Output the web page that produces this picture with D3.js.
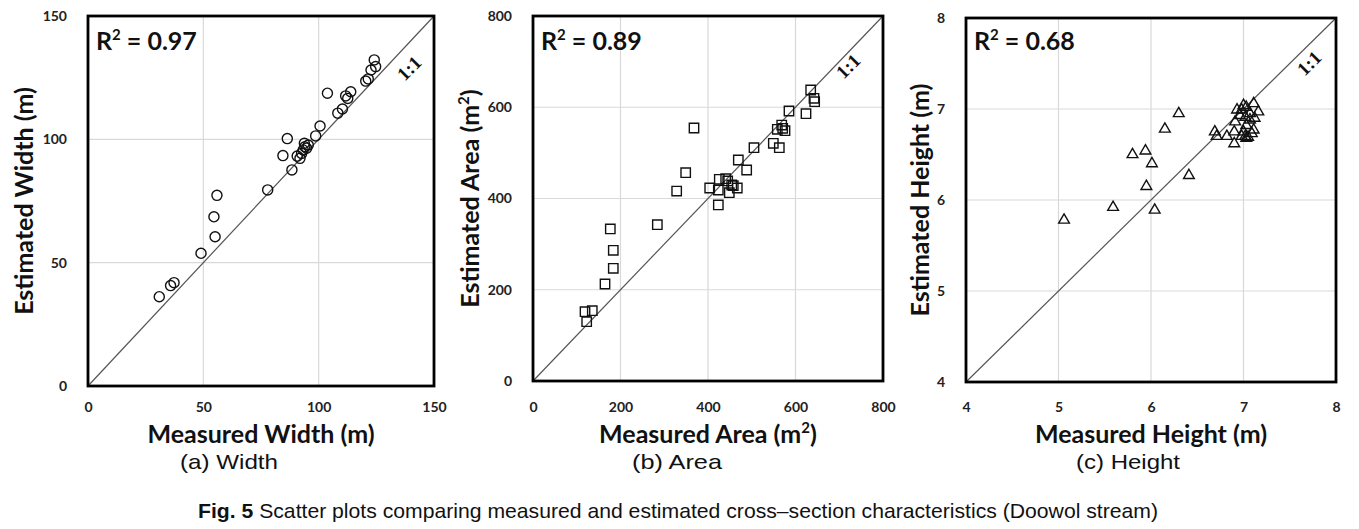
<!DOCTYPE html>
<html>
<head>
<meta charset="utf-8">
<script src="https://cdn.jsdelivr.net/npm/d3@7"></script>
<style>
  html, body { margin: 0; padding: 0; background: #fff; }
  svg { display: block; }
</style>
</head>
<body>
<svg id="chart" width="1359" height="529"></svg>
<script>
// ---------------- DATA ----------------
const widthMeasured  = [30.9, 35.8, 37.3, 49.0, 55.1, 54.6, 55.9, 77.9, 88.4, 84.5, 86.4, 90.7, 91.9, 92.6, 93.3, 94.0, 93.8, 94.8, 95.5, 98.7, 100.6, 103.8, 108.3, 110.3, 111.7, 112.6, 113.9, 120.4, 121.5, 122.7, 124.7, 124.1];
const widthEstimated = [36.2, 40.7, 41.9, 53.8, 60.5, 68.6, 77.3, 79.5, 87.6, 93.4, 100.3, 93.2, 92.3, 94.3, 95.7, 97.0, 98.4, 96.4, 97.7, 101.4, 105.4, 118.7, 110.6, 112.3, 117.6, 116.6, 119.3, 123.6, 124.5, 128.1, 129.5, 132.2];

const areaMeasured  = [118.9, 135.5, 122.7, 164.6, 176.7, 183.5, 183.5, 284.2, 328.4, 349.0, 368.0, 403.9, 423.6, 423.6, 425.8, 440.4, 445.0, 454.2, 467.0, 448.7, 457.8, 469.3, 488.4, 505.1, 549.3, 563.0, 558.4, 568.5, 576.0, 570.7, 585.1, 624.0, 634.7, 642.3, 643.8];
const areaEstimated = [151.9, 154.1, 130.0, 212.6, 333.2, 286.5, 247.0, 342.6, 416.4, 456.6, 554.5, 423.0, 385.8, 418.6, 442.0, 443.4, 438.4, 429.6, 423.0, 412.7, 428.0, 484.4, 462.5, 511.3, 520.9, 511.3, 551.7, 561.0, 548.6, 553.8, 591.8, 585.8, 637.8, 619.6, 612.2];

const heightMeasured  = [5.06, 5.59, 5.80, 5.94, 6.01, 5.95, 6.04, 6.15, 6.30, 6.41, 6.69, 6.71, 6.82, 6.90, 6.90, 6.93, 7.00, 7.03, 7.11, 7.16, 7.07, 6.96, 7.02, 6.91, 7.07, 7.11, 6.98, 7.02, 7.05, 7.09, 7.00, 7.03, 6.98, 7.12, 7.03];
const heightEstimated = [5.78, 5.92, 6.50, 6.54, 6.40, 6.15, 5.89, 6.78, 6.95, 6.27, 6.75, 6.70, 6.70, 6.62, 6.75, 6.99, 7.04, 7.02, 7.06, 6.97, 6.95, 6.93, 6.91, 6.86, 6.88, 6.77, 6.70, 6.70, 6.69, 6.73, 6.75, 6.82, 6.99, 6.90, 6.68];

const widthTicks  = [0, 50, 100, 150];
const areaTicks   = [0, 200, 400, 600, 800];
const heightTicks = [4, 5, 6, 7, 8];

const r2Values = ["0.97", "0.89", "0.68"];
const xTitles  = [["Measured Width (m)", ""], ["Measured Area (m", "2", ")"], ["Measured Height (m)", ""]];
const yTitles  = [["Estimated Width (m)", ""], ["Estimated Area (m", "2", ")"], ["Estimated Height (m)", ""]];
const subLabels = ["(a)  Width", "(b)  Area", "(c)  Height"];
const captionBold = "Fig. 5";
const captionText = " Scatter plots comparing measured and estimated cross\u2013section characteristics (Doowol stream)";
const oneToOne = "1:1";

// ---------------- LAYOUT ----------------
const panels = [
  { mx: widthMeasured,  ey: widthEstimated,  ticks: widthTicks,  sym: d3.symbolCircle,   size: 80,
    left: 88,  right: 434, top: 16, bottom: 386, yTitleX: 24,  lbl: [409, 68] },
  { mx: areaMeasured,   ey: areaEstimated,   ticks: areaTicks,   sym: d3.symbolSquare,   size: 88,
    left: 533, right: 883, top: 16, bottom: 381, yTitleX: 470, lbl: [848, 66] },
  { mx: heightMeasured, ey: heightEstimated, ticks: heightTicks, sym: d3.symbolTriangle, size: 50,
    left: 966, right: 1336, top: 18, bottom: 382, yTitleX: 920, lbl: [1309, 63] }
];
const subLabelX = [229, 677, 1128];
const subLabelW = [98, 90, 104];

const svg = d3.select("#chart");
const boldFont = "Lato, 'Open Sans', 'DejaVu Sans', sans-serif";
const plainFont = "'Liberation Sans', Arial, sans-serif";

panels.forEach((p, i) => {
  const dom = d3.extent(p.ticks);
  const x = d3.scaleLinear().domain(dom).range([p.left, p.right]);
  const y = d3.scaleLinear().domain(dom).range([p.bottom, p.top]);
  const g = svg.append("g");

  // grid
  g.append("g").selectAll("line").data(p.ticks.slice(1, -1)).join("line")
    .attr("x1", d => x(d)).attr("x2", d => x(d)).attr("y1", p.top).attr("y2", p.bottom)
    .attr("stroke", "#d9d9d9").attr("stroke-width", 1.2);
  g.append("g").selectAll("line").data(p.ticks.slice(1, -1)).join("line")
    .attr("y1", d => y(d)).attr("y2", d => y(d)).attr("x1", p.left).attr("x2", p.right)
    .attr("stroke", "#d9d9d9").attr("stroke-width", 1.2);

  // axes (tick labels)
  const xa = g.append("g").attr("transform", `translate(0,${p.bottom})`)
    .call(d3.axisBottom(x).tickValues(p.ticks).tickFormat(d => String(d)).tickSize(0).tickPadding(0));
  xa.select(".domain").remove();
  xa.selectAll("text").attr("y", 412 - p.bottom).attr("dy", null)
    .style("font-family", boldFont).style("font-weight", "bold").style("font-size", "14px").attr("fill", "#222");
  const ya = g.append("g").attr("transform", `translate(${p.left},0)`)
    .call(d3.axisLeft(y).tickValues(p.ticks).tickFormat(d => String(d)).tickSize(0).tickPadding(21));
  ya.select(".domain").remove();
  ya.selectAll("text")
    .style("font-family", boldFont).style("font-weight", "bold").style("font-size", "14px").attr("fill", "#222");

  // 1:1 line
  g.append("line")
    .attr("x1", x(dom[0])).attr("y1", y(dom[0])).attr("x2", x(dom[1])).attr("y2", y(dom[1]))
    .attr("stroke", "#555").attr("stroke-width", 1.2);

  // points
  const sym = d3.symbol().type(p.sym).size(p.size);
  g.append("g").selectAll("path").data(p.mx.map((v, k) => [v, p.ey[k]])).join("path")
    .attr("d", sym)
    .attr("transform", d => `translate(${x(d[0])},${y(d[1])})`)
    .attr("fill", "none").attr("stroke", "#111").attr("stroke-width", 1.4);

  // frame
  g.append("rect").attr("x", p.left).attr("y", p.top)
    .attr("width", p.right - p.left).attr("height", p.bottom - p.top)
    .attr("fill", "none").attr("stroke", "#000").attr("stroke-width", 2.8);

  // R2
  const r2 = g.append("text").attr("x", p.left + 8).attr("y", 50)
    .style("font-family", boldFont).style("font-weight", "bold").style("font-size", "25px").attr("fill", "#111");
  r2.append("tspan").text("R");
  r2.append("tspan").text("2").style("font-size", "15px").attr("dy", -10);
  r2.append("tspan").text(" = " + r2Values[i]).attr("dy", 10);

  // 1:1 label
  g.append("text").attr("transform", `translate(${p.lbl[0]},${p.lbl[1]}) rotate(-45)`)
    .attr("text-anchor", "middle").attr("dy", "0.35em")
    .style("font-family", "'Liberation Serif', 'DejaVu Serif', serif").style("font-weight", "bold")
    .style("font-size", "19px").attr("fill", "#111").text(oneToOne);

  // x title
  const xt = g.append("text").attr("x", (p.left + p.right) / 2).attr("y", 443).attr("text-anchor", "middle")
    .style("font-family", boldFont).style("font-weight", "bold").style("font-size", "25px").attr("fill", "#111");
  xt.append("tspan").text(xTitles[i][0]);
  if (xTitles[i][1]) {
    xt.append("tspan").text(xTitles[i][1]).style("font-size", "15px").attr("dy", -10);
    xt.append("tspan").text(xTitles[i][2]).attr("dy", 10);
  }
  // y title
  const yt = g.append("text")
    .attr("transform", `translate(${p.yTitleX},${(p.top + p.bottom) / 2}) rotate(-90)`)
    .attr("text-anchor", "middle").attr("dy", "0.35em")
    .style("font-family", boldFont).style("font-weight", "bold").style("font-size", "25px").attr("fill", "#111");
  yt.append("tspan").text(yTitles[i][0]);
  if (yTitles[i][1]) {
    yt.append("tspan").text(yTitles[i][1]).style("font-size", "15px").attr("dy", -10);
    yt.append("tspan").text(yTitles[i][2]).attr("dy", 10);
  }

  // sub label
  g.append("text").attr("x", subLabelX[i] - subLabelW[i] / 2).attr("y", 469)
    .attr("textLength", subLabelW[i]).attr("lengthAdjust", "spacingAndGlyphs")
    .style("font-family", plainFont).style("font-size", "21px").attr("fill", "#111")
    .text(subLabels[i]);
});

// caption
const capW = 960, capX = 678 - capW / 2;
const cap = svg.append("text").attr("x", capX).attr("y", 518)
  .attr("textLength", capW).attr("lengthAdjust", "spacingAndGlyphs")
  .style("font-family", plainFont).style("font-size", "21px").attr("fill", "#111");
cap.append("tspan").text(captionBold).style("font-weight", "bold");
cap.append("tspan").text(captionText);
</script>
</body>
</html>
